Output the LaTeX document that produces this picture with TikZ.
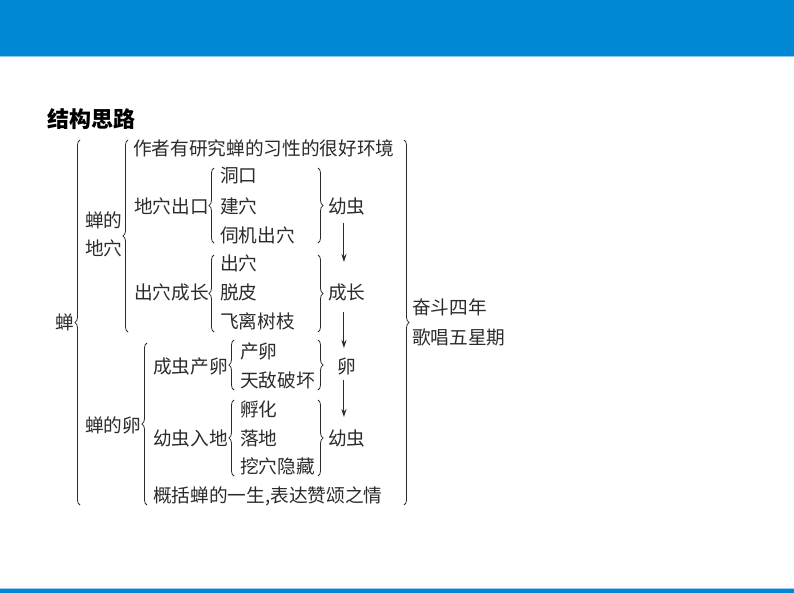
\documentclass[tikz,border=0pt]{standalone}
\usepackage{fontspec}
\setmainfont{Noto Sans CJK SC}
\usetikzlibrary{decorations.pathreplacing,arrows.meta}
\definecolor{barblue}{HTML}{0088D4}
\definecolor{txt}{HTML}{2B2B2B}
\begin{document}
\begin{tikzpicture}[x=0.75pt,y=-0.75pt,
  t/.style={anchor=west,inner sep=0pt,font=\fontsize{14}{21}\selectfont,text=txt},
  br/.style={decorate,decoration={brace,amplitude=3.8pt},draw=txt,line width=0.6pt},
  arr/.style={-{Stealth[length=6pt,width=3.8pt]},draw=txt,line width=0.8pt}]
\useasboundingbox (0,0) rectangle (794,593);
\fill[white] (0,0) rectangle (794,593);
\fill[barblue] (0,0) rectangle (794,56);
\draw[barblue!45,line width=0.8pt] (0,56.5) -- (794,56.5);
\fill[barblue] (0,589) rectangle (794,593);
\draw[barblue!40,line width=0.6pt] (0,588.5) -- (794,588.5);

\node[anchor=west,inner sep=0pt,font=\fontsize{16.5}{18}\selectfont\bfseries] (title) at (47,119) {结构思路};

\node[t] (chan) at (55,322) {蝉};
\node[t,align=left] (dx) at (85,234) {蝉的\\地穴};
\node[t] (zz) at (133,148) {作者有研究蝉的习性的很好环境};
\node[t] (dxck) at (134,206) {地穴出口};
\node[t] (dk) at (220,176) {洞口};
\node[t] (jx) at (220,206) {建穴};
\node[t] (sj) at (220,235) {伺机出穴};
\node[t] (yc1) at (328,206) {幼虫};
\node[t] (cx) at (220,263) {出穴};
\node[t] (cxcz) at (134,292) {出穴成长};
\node[t] (tp) at (220,292) {脱皮};
\node[t] (cz) at (328,292) {成长};
\node[t] (fl) at (220,321) {飞离树枝};
\node[t] (dl) at (85,425) {蝉的卵};
\node[t] (cccl) at (153,366) {成虫产卵};
\node[t] (cl) at (240,351) {产卵};
\node[t] (td) at (240,380) {天敌破坏};
\node[t] (luan) at (337,366) {卵};
\node[t] (yrd) at (153,438) {幼虫入地};
\node[t] (fh) at (240,409) {孵化};
\node[t] (ld) at (240,438) {落地};
\node[t] (wx) at (240,466) {挖穴隐藏};
\node[t] (yc2) at (328,438) {幼虫};
\node[t] (gk) at (153,496) {概括蝉的一生,表达赞颂之情};
\node[t] (fd) at (412,307) {奋斗四年};
\node[t] (gc) at (412,337) {歌唱五星期};

% left braces
\draw[br] (80,505) -- (80,140);
\draw[br] (128,332) -- (128,140);
\draw[br] (147,505) -- (147,343);
\draw[br] (214,243) -- (214,168);
\draw[br] (214,332) -- (214,255);
\draw[br] (234,390) -- (234,340);
\draw[br] (234,476) -- (234,400);
% right braces
\draw[br] (318,168) -- (318,243);
\draw[br] (318,255) -- (318,332);
\draw[br] (318,340) -- (318,390);
\draw[br] (318,400) -- (318,476);
\draw[br] (404,140) -- (404,505);

% arrows
\draw[arr,shorten <=12.75pt,shorten >=22.5pt] ([xshift=-2.25pt]yc1.center) -- ([xshift=-2.25pt]cz.center);
\draw[arr,shorten <=15pt,shorten >=13.5pt] ([xshift=-2.25pt]cz.center) -- ([xshift=-2.25pt]cz.center |- luan.center);
\draw[arr,shorten <=10.5pt,shorten >=15.75pt] ([xshift=-2.25pt]cz.center |- luan.center) -- ([xshift=-2.25pt]yc2.center);
\end{tikzpicture}
\end{document}
